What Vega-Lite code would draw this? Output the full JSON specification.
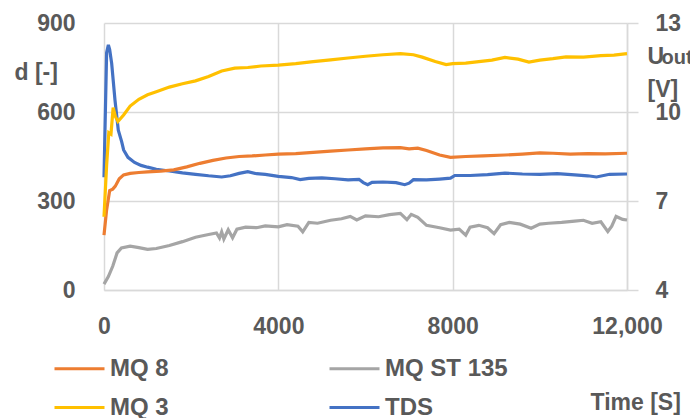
{
"$schema": "https://vega.github.io/schema/vega-lite/v6.json",
"width": 523, "height": 267,
"autosize": {"type": "none"},
"padding": {"left": 104, "top": 23, "right": 63, "bottom": 128},
"config": {
  "view": {"stroke": null},
  "font": "Liberation Sans",
  "axis": {"labelFont": "Liberation Sans", "labelFontWeight": "bold", "labelColor": "#595959", "labelFontSize": 23, "titleFont": "Liberation Sans", "titleFontWeight": "bold", "titleColor": "#595959", "titleFontSize": 23, "gridColor": "#d9d9d9", "gridWidth": 1.5, "domainColor": "#d9d9d9", "domainWidth": 1.5, "tickColor": "#d9d9d9", "tickWidth": 1.5},
  "legend": {"orient": "none", "legendX": -51, "legendY": 319, "columns": 2, "columnPadding": 154, "rowPadding": -18, "symbolType": "stroke", "symbolSize": 2500, "symbolStrokeWidth": 3, "labelFont": "Liberation Sans", "labelFontWeight": "bold", "labelColor": "#595959", "labelFontSize": 24, "labelOffset": 4, "padding": 0}
},
"datasets": {
  "tds": [
    {"t": 0, "v": 380, "s": "TDS"}, {"t": 60, "v": 800, "s": "TDS"}, {"t": 100, "v": 826, "s": "TDS"}, {"t": 130, "v": 810, "s": "TDS"},
    {"t": 176, "v": 764, "s": "TDS"}, {"t": 252, "v": 640, "s": "TDS"}, {"t": 328, "v": 539, "s": "TDS"}, {"t": 405, "v": 500, "s": "TDS"},
    {"t": 450, "v": 472, "s": "TDS"}, {"t": 550, "v": 447, "s": "TDS"}, {"t": 700, "v": 430, "s": "TDS"}, {"t": 850, "v": 420, "s": "TDS"},
    {"t": 1000, "v": 414, "s": "TDS"}, {"t": 1200, "v": 407, "s": "TDS"}, {"t": 1500, "v": 401, "s": "TDS"}, {"t": 1800, "v": 395, "s": "TDS"},
    {"t": 2100, "v": 390, "s": "TDS"}, {"t": 2400, "v": 385, "s": "TDS"}, {"t": 2700, "v": 381, "s": "TDS"}, {"t": 2900, "v": 385, "s": "TDS"},
    {"t": 3100, "v": 393, "s": "TDS"}, {"t": 3300, "v": 399, "s": "TDS"}, {"t": 3500, "v": 392, "s": "TDS"}, {"t": 3700, "v": 390, "s": "TDS"},
    {"t": 4000, "v": 383, "s": "TDS"}, {"t": 4300, "v": 379, "s": "TDS"}, {"t": 4500, "v": 372, "s": "TDS"}, {"t": 4700, "v": 376, "s": "TDS"},
    {"t": 5000, "v": 378, "s": "TDS"}, {"t": 5300, "v": 375, "s": "TDS"}, {"t": 5600, "v": 371, "s": "TDS"}, {"t": 5850, "v": 373, "s": "TDS"},
    {"t": 5950, "v": 362, "s": "TDS"}, {"t": 6050, "v": 355, "s": "TDS"}, {"t": 6150, "v": 363, "s": "TDS"}, {"t": 6400, "v": 364, "s": "TDS"},
    {"t": 6700, "v": 362, "s": "TDS"}, {"t": 6900, "v": 355, "s": "TDS"}, {"t": 7000, "v": 360, "s": "TDS"}, {"t": 7100, "v": 372, "s": "TDS"},
    {"t": 7400, "v": 371, "s": "TDS"}, {"t": 7700, "v": 374, "s": "TDS"}, {"t": 7950, "v": 377, "s": "TDS"}, {"t": 8050, "v": 386, "s": "TDS"},
    {"t": 8400, "v": 386, "s": "TDS"}, {"t": 8800, "v": 389, "s": "TDS"}, {"t": 9200, "v": 394, "s": "TDS"}, {"t": 9600, "v": 391, "s": "TDS"},
    {"t": 10000, "v": 390, "s": "TDS"}, {"t": 10400, "v": 392, "s": "TDS"}, {"t": 10800, "v": 388, "s": "TDS"}, {"t": 11100, "v": 385, "s": "TDS"},
    {"t": 11300, "v": 381, "s": "TDS"}, {"t": 11600, "v": 390, "s": "TDS"}, {"t": 12000, "v": 391, "s": "TDS"}
  ],
  "mq": [
    {"t": 0, "v": 5.85, "s": "MQ 8"}, {"t": 60, "v": 6.70, "s": "MQ 8"}, {"t": 130, "v": 7.35, "s": "MQ 8"}, {"t": 200, "v": 7.40, "s": "MQ 8"},
    {"t": 260, "v": 7.50, "s": "MQ 8"}, {"t": 350, "v": 7.75, "s": "MQ 8"}, {"t": 450, "v": 7.88, "s": "MQ 8"}, {"t": 600, "v": 7.93, "s": "MQ 8"},
    {"t": 800, "v": 7.96, "s": "MQ 8"}, {"t": 1000, "v": 7.98, "s": "MQ 8"}, {"t": 1300, "v": 8.01, "s": "MQ 8"}, {"t": 1600, "v": 8.05, "s": "MQ 8"},
    {"t": 1900, "v": 8.15, "s": "MQ 8"}, {"t": 2200, "v": 8.27, "s": "MQ 8"}, {"t": 2500, "v": 8.37, "s": "MQ 8"}, {"t": 2800, "v": 8.45, "s": "MQ 8"},
    {"t": 3100, "v": 8.50, "s": "MQ 8"}, {"t": 3400, "v": 8.52, "s": "MQ 8"}, {"t": 3700, "v": 8.55, "s": "MQ 8"}, {"t": 4000, "v": 8.58, "s": "MQ 8"},
    {"t": 4400, "v": 8.60, "s": "MQ 8"}, {"t": 4800, "v": 8.64, "s": "MQ 8"}, {"t": 5200, "v": 8.68, "s": "MQ 8"}, {"t": 5600, "v": 8.72, "s": "MQ 8"},
    {"t": 6000, "v": 8.76, "s": "MQ 8"}, {"t": 6400, "v": 8.79, "s": "MQ 8"}, {"t": 6800, "v": 8.80, "s": "MQ 8"}, {"t": 7000, "v": 8.76, "s": "MQ 8"},
    {"t": 7200, "v": 8.78, "s": "MQ 8"}, {"t": 7400, "v": 8.70, "s": "MQ 8"}, {"t": 7700, "v": 8.55, "s": "MQ 8"}, {"t": 7950, "v": 8.47, "s": "MQ 8"},
    {"t": 8300, "v": 8.50, "s": "MQ 8"}, {"t": 8700, "v": 8.52, "s": "MQ 8"}, {"t": 9200, "v": 8.55, "s": "MQ 8"}, {"t": 9600, "v": 8.58, "s": "MQ 8"},
    {"t": 10000, "v": 8.62, "s": "MQ 8"}, {"t": 10300, "v": 8.61, "s": "MQ 8"}, {"t": 10700, "v": 8.58, "s": "MQ 8"}, {"t": 11100, "v": 8.60, "s": "MQ 8"},
    {"t": 11500, "v": 8.59, "s": "MQ 8"}, {"t": 12000, "v": 8.61, "s": "MQ 8"},
    {"t": 0, "v": 6.47, "s": "MQ 3"}, {"t": 60, "v": 8.20, "s": "MQ 3"}, {"t": 110, "v": 9.30, "s": "MQ 3"}, {"t": 160, "v": 9.25, "s": "MQ 3"},
    {"t": 210, "v": 10.15, "s": "MQ 3"}, {"t": 260, "v": 9.85, "s": "MQ 3"}, {"t": 320, "v": 9.68, "s": "MQ 3"}, {"t": 450, "v": 9.90, "s": "MQ 3"},
    {"t": 600, "v": 10.20, "s": "MQ 3"}, {"t": 800, "v": 10.43, "s": "MQ 3"}, {"t": 1000, "v": 10.58, "s": "MQ 3"}, {"t": 1200, "v": 10.68, "s": "MQ 3"},
    {"t": 1500, "v": 10.84, "s": "MQ 3"}, {"t": 1800, "v": 10.95, "s": "MQ 3"}, {"t": 2100, "v": 11.05, "s": "MQ 3"}, {"t": 2400, "v": 11.20, "s": "MQ 3"},
    {"t": 2700, "v": 11.38, "s": "MQ 3"}, {"t": 3000, "v": 11.48, "s": "MQ 3"}, {"t": 3300, "v": 11.50, "s": "MQ 3"}, {"t": 3600, "v": 11.55, "s": "MQ 3"},
    {"t": 4000, "v": 11.58, "s": "MQ 3"}, {"t": 4400, "v": 11.63, "s": "MQ 3"}, {"t": 4800, "v": 11.70, "s": "MQ 3"}, {"t": 5200, "v": 11.76, "s": "MQ 3"},
    {"t": 5600, "v": 11.82, "s": "MQ 3"}, {"t": 6000, "v": 11.88, "s": "MQ 3"}, {"t": 6400, "v": 11.93, "s": "MQ 3"}, {"t": 6800, "v": 11.97, "s": "MQ 3"},
    {"t": 7100, "v": 11.93, "s": "MQ 3"}, {"t": 7300, "v": 11.85, "s": "MQ 3"}, {"t": 7600, "v": 11.70, "s": "MQ 3"}, {"t": 7850, "v": 11.60, "s": "MQ 3"},
    {"t": 8000, "v": 11.63, "s": "MQ 3"}, {"t": 8300, "v": 11.65, "s": "MQ 3"}, {"t": 8600, "v": 11.70, "s": "MQ 3"}, {"t": 8900, "v": 11.75, "s": "MQ 3"},
    {"t": 9200, "v": 11.84, "s": "MQ 3"}, {"t": 9500, "v": 11.78, "s": "MQ 3"}, {"t": 9750, "v": 11.68, "s": "MQ 3"}, {"t": 10000, "v": 11.75, "s": "MQ 3"},
    {"t": 10300, "v": 11.80, "s": "MQ 3"}, {"t": 10600, "v": 11.86, "s": "MQ 3"}, {"t": 11000, "v": 11.85, "s": "MQ 3"}, {"t": 11400, "v": 11.90, "s": "MQ 3"},
    {"t": 11700, "v": 11.92, "s": "MQ 3"}, {"t": 12000, "v": 11.97, "s": "MQ 3"},
    {"t": 0, "v": 4.20, "s": "MQ ST 135"}, {"t": 100, "v": 4.45, "s": "MQ ST 135"}, {"t": 200, "v": 4.80, "s": "MQ ST 135"}, {"t": 300, "v": 5.25, "s": "MQ ST 135"},
    {"t": 400, "v": 5.42, "s": "MQ ST 135"}, {"t": 600, "v": 5.48, "s": "MQ ST 135"}, {"t": 800, "v": 5.43, "s": "MQ ST 135"}, {"t": 1000, "v": 5.37, "s": "MQ ST 135"},
    {"t": 1200, "v": 5.40, "s": "MQ ST 135"}, {"t": 1500, "v": 5.50, "s": "MQ ST 135"}, {"t": 1800, "v": 5.63, "s": "MQ ST 135"}, {"t": 2100, "v": 5.78, "s": "MQ ST 135"},
    {"t": 2400, "v": 5.87, "s": "MQ ST 135"}, {"t": 2580, "v": 5.92, "s": "MQ ST 135"}, {"t": 2650, "v": 5.75, "s": "MQ ST 135"}, {"t": 2700, "v": 5.96, "s": "MQ ST 135"},
    {"t": 2750, "v": 5.72, "s": "MQ ST 135"}, {"t": 2850, "v": 6.03, "s": "MQ ST 135"}, {"t": 2950, "v": 5.76, "s": "MQ ST 135"}, {"t": 3050, "v": 6.05, "s": "MQ ST 135"},
    {"t": 3250, "v": 6.12, "s": "MQ ST 135"}, {"t": 3500, "v": 6.10, "s": "MQ ST 135"}, {"t": 3700, "v": 6.16, "s": "MQ ST 135"}, {"t": 4000, "v": 6.13, "s": "MQ ST 135"},
    {"t": 4200, "v": 6.20, "s": "MQ ST 135"}, {"t": 4450, "v": 6.15, "s": "MQ ST 135"}, {"t": 4560, "v": 5.96, "s": "MQ ST 135"}, {"t": 4700, "v": 6.28, "s": "MQ ST 135"},
    {"t": 4900, "v": 6.25, "s": "MQ ST 135"}, {"t": 5200, "v": 6.35, "s": "MQ ST 135"}, {"t": 5450, "v": 6.40, "s": "MQ ST 135"}, {"t": 5650, "v": 6.48, "s": "MQ ST 135"},
    {"t": 5800, "v": 6.36, "s": "MQ ST 135"}, {"t": 6000, "v": 6.50, "s": "MQ ST 135"}, {"t": 6300, "v": 6.47, "s": "MQ ST 135"}, {"t": 6550, "v": 6.54, "s": "MQ ST 135"},
    {"t": 6800, "v": 6.58, "s": "MQ ST 135"}, {"t": 6950, "v": 6.37, "s": "MQ ST 135"}, {"t": 7050, "v": 6.55, "s": "MQ ST 135"}, {"t": 7200, "v": 6.45, "s": "MQ ST 135"},
    {"t": 7400, "v": 6.18, "s": "MQ ST 135"}, {"t": 7700, "v": 6.10, "s": "MQ ST 135"}, {"t": 7950, "v": 6.02, "s": "MQ ST 135"}, {"t": 8150, "v": 6.05, "s": "MQ ST 135"},
    {"t": 8300, "v": 5.85, "s": "MQ ST 135"}, {"t": 8400, "v": 6.12, "s": "MQ ST 135"}, {"t": 8600, "v": 6.18, "s": "MQ ST 135"}, {"t": 8800, "v": 6.10, "s": "MQ ST 135"},
    {"t": 8950, "v": 5.90, "s": "MQ ST 135"}, {"t": 9100, "v": 6.20, "s": "MQ ST 135"}, {"t": 9300, "v": 6.28, "s": "MQ ST 135"}, {"t": 9550, "v": 6.22, "s": "MQ ST 135"},
    {"t": 9800, "v": 6.08, "s": "MQ ST 135"}, {"t": 10000, "v": 6.22, "s": "MQ ST 135"}, {"t": 10200, "v": 6.25, "s": "MQ ST 135"}, {"t": 10500, "v": 6.28, "s": "MQ ST 135"},
    {"t": 10800, "v": 6.32, "s": "MQ ST 135"}, {"t": 11000, "v": 6.35, "s": "MQ ST 135"}, {"t": 11200, "v": 6.25, "s": "MQ ST 135"}, {"t": 11400, "v": 6.30, "s": "MQ ST 135"},
    {"t": 11560, "v": 5.97, "s": "MQ ST 135"}, {"t": 11650, "v": 6.15, "s": "MQ ST 135"}, {"t": 11750, "v": 6.48, "s": "MQ ST 135"}, {"t": 11900, "v": 6.38, "s": "MQ ST 135"},
    {"t": 12000, "v": 6.36, "s": "MQ ST 135"}
  ]
},
"layer": [
  {
    "data": {"name": "tds"},
    "mark": {"type": "line", "strokeWidth": 3.2},
    "encoding": {
      "x": {"field": "t", "type": "quantitative", "scale": {"domain": [0, 12000]},
        "axis": {"values": [0, 4000, 8000, 12000], "labelExpr": "datum.value == 12000 ? '12,000' : '' + datum.value", "grid": true, "ticks": false, "labelFlush": false, "labelOverlap": false, "labelPadding": 25, "title": "Time [S]", "titleX": 486, "titleY": 112, "titleAlign": "left", "titleBaseline": "middle", "titleAngle": 0}},
      "y": {"field": "v", "type": "quantitative", "scale": {"domain": [0, 900]},
        "axis": {"values": [0, 300, 600, 900], "grid": true, "ticks": false, "domain": false, "labelPadding": 29, "title": "d [-]", "titleAngle": 0, "titleX": -90, "titleY": 49, "titleAlign": "left", "titleBaseline": "middle"}},
      "color": {"field": "s", "type": "nominal", "title": null, "scale": {"domain": ["MQ 8", "MQ 3", "MQ ST 135", "TDS"], "range": ["#ED7D31", "#FFC000", "#A5A5A5", "#4472C4"]}}
    }
  },
  {
    "data": {"name": "mq"},
    "mark": {"type": "line", "strokeWidth": 3.2},
    "encoding": {
      "x": {"field": "t", "type": "quantitative", "scale": {"domain": [0, 12000]}, "axis": null},
      "y": {"field": "v", "type": "quantitative", "scale": {"domain": [4, 13]},
        "axis": {"orient": "right", "values": [4, 7, 10, 13], "grid": false, "ticks": true, "tickSize": 11, "domain": true, "labelPadding": 17, "title": ["U", "\u2002[V]"], "titleAngle": 0, "titleX": 20, "titleY": 40, "titleAlign": "left", "titleBaseline": "alphabetic", "titleLineHeight": 33}},
      "color": {"field": "s", "type": "nominal", "title": null, "scale": {"domain": ["MQ 8", "MQ 3", "MQ ST 135", "TDS"], "range": ["#ED7D31", "#FFC000", "#A5A5A5", "#4472C4"]}}
    }
  },
  {
    "data": {"name": "tds"},
    "mark": {"type": "line", "opacity": 0},
    "encoding": {
      "x": {"field": "t", "type": "quantitative", "scale": {"domain": [0, 12000]},
        "axis": {"orient": "top", "labels": false, "ticks": false, "domain": false, "grid": false, "title": "out", "titleX": 557, "titleY": 40, "titleAlign": "left", "titleBaseline": "alphabetic", "titleAngle": 0, "titleFontSize": 20}},
      "y": {"field": "v", "type": "quantitative", "scale": {"domain": [0, 900]}, "axis": null}
    }
  }
],
"resolve": {"scale": {"y": "independent"}, "axis": {"x": "independent"}}
}
